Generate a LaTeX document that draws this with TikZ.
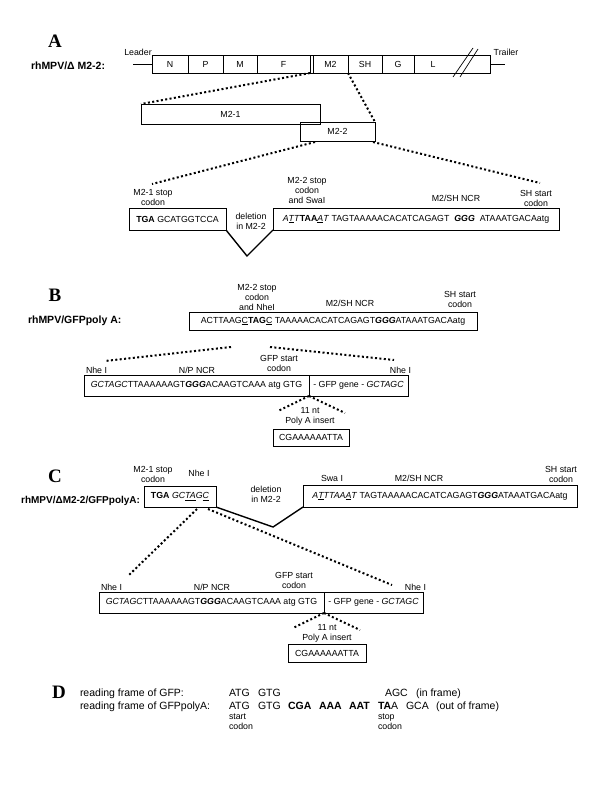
\documentclass[tikz,border=0pt]{standalone}
\usepackage{fontspec}
\setmainfont{Liberation Sans}
\newfontfamily\panelfont{Liberation Serif}
\begin{document}
\begin{tikzpicture}[x=1pt,y=-1pt,
  every node/.style={inner sep=0pt,outer sep=0pt},
  sm/.style={font=\fontsize{8.8}{10}\selectfont,align=center},
  seg/.style={draw,line width=0.7pt,minimum height=18pt,font=\fontsize{8.8}{10}\selectfont},
  box/.style={draw,line width=0.8pt,font=\fontsize{8.8}{10}\selectfont},
  dotline/.style={line width=2pt,dash pattern=on 2pt off 2.4pt},
  thk/.style={line width=1.4pt},
  plabel/.style={font=\panelfont\bfseries\fontsize{19}{19}\selectfont},
  ttl/.style={font=\bfseries\fontsize{10.5}{12}\selectfont},
  dtext/.style={font=\fontsize{10.5}{12}\selectfont,anchor=base west},
]
\useasboundingbox (0,0) rectangle (600,800);
\fill[white] (0,0) rectangle (600,800);

% ---------------- Panel A ----------------
\node[plabel] (pA) at (55,41) {A};
\node[ttl,anchor=west] (tA) at (31,66) {rhMPV/Δ M2-2:};
\node[seg,minimum width=36pt] (gN) at (170,64) {N};
\node[seg,minimum width=35pt] (gP) at (205.5,64) {P};
\node[seg,minimum width=34pt] (gM) at (240,64) {M};
\node[seg,minimum width=53pt] (gF) at (283.5,64) {F};
\node[seg,minimum width=35pt] (gMM) at (330.5,64) {M2};
\node[seg,minimum width=34pt] (gSH) at (365,64) {SH};
\node[seg,minimum width=32pt] (gG) at (398,64) {G};
\node[seg,minimum width=76pt] (gL) at (452,64) {};
\node[sm] (gLt) at (433,64) {L};
\draw[line width=0.7pt] (gF.north east) -- (gMM.north west) (gF.south east) -- (gMM.south west);
\draw[line width=0.7pt] (453,77) -- (473,48) (460,77) -- (478,49);
\coordinate (leadend) at (133,64);
\coordinate (trailend) at (505,64);
\draw[line width=0.7pt] (leadend) -- (gN.west);
\draw[line width=0.7pt] (gL.east) -- (trailend);
\node[sm] (leader) at (138,52) {Leader};
\node[sm] (trailer) at (506,52) {Trailer};

\node[box,minimum width=179pt,minimum height=20pt] (m21) at (230.5,114) {M2-1};
\node[box,minimum width=75pt,minimum height=19pt] (m22) at (337.5,131.5) {M2-2};
\draw[dotline] (gF.south east) -- (m21.north west);
\draw[dotline] (gSH.south west) -- (m22.north east);

\node[box,minimum width=97pt,minimum height=22pt] (tgaA) at (177.5,219) {\textbf{TGA} GCATGGTCCA};
\node[box,minimum width=286pt,minimum height=22pt] (ncrA) at (416,219) {\textit{A\underline{T}T}\textbf{TAA}\textit{\underline{A}T} TAGTAAAAACACATCAGAGT \ \textbf{\textit{GGG}} \ ATAAATGACAatg};
\coordinate (a1) at (315,142);
\coordinate (a2) at (152,184);
\coordinate (a3) at (373,142);
\coordinate (a4) at (540,183);
\draw[dotline] (a1) -- (a2);
\draw[dotline] (a3) -- (a4);
\coordinate (vA) at (247,256);
\draw[thk] (tgaA.south east) -- (vA) -- (ncrA.south west);
\node[sm] (lA1) at (153,197) {M2-1 stop\\codon};
\node[sm] (lA2) at (307,190) {M2-2 stop\\codon\\and SwaI};
\node[sm] (lA3) at (456,198) {M2/SH NCR};
\node[sm] (lA4) at (536,198) {SH start\\codon};
\node[sm] (lA5) at (251,221) {deletion\\in M2-2};

% ---------------- Panel B ----------------
\node[plabel] (pB) at (55,295) {B};
\node[ttl,anchor=west] (tB) at (28,321) {rhMPV/GFPpoly A:};
\node[box,minimum width=288pt,minimum height=18pt] (topB) at (333,321) {ACTTAAG\underline{C}\textbf{TAG}\underline{C} TAAAAACACATCAGAGT\textbf{\textit{GGG}}ATAAATGACAatg};
\node[sm] (lB1) at (257,297) {M2-2 stop\\codon\\ and NheI};
\node[sm] (lB2) at (350,303) {M2/SH NCR};
\node[sm] (lB3) at (460,299) {SH start\\codon};
\coordinate (b1) at (231,347);
\coordinate (b2) at (105,361);
\coordinate (b3) at (270,347);
\coordinate (b4) at (394,360);
\draw[dotline] (b1) -- (b2);
\draw[dotline] (b3) -- (b4);
\node[box,minimum width=225pt,minimum height=21pt] (lowBL) at (196.5,385.5) {\textit{GCTAGC}TTAAAAAAGT\textbf{\textit{GGG}}ACAAGTCAAA atg GTG};
\node[box,minimum width=99pt,minimum height=21pt] (lowBR) at (358.5,385.5) {- GFP gene - \textit{GCTAGC}};
\node[sm,anchor=west] (lB4) at (86,370) {Nhe I};
\node[sm] (lB5) at (197,370) {N/P NCR};
\node[sm] (lB6) at (279,363) {GFP start\\codon};
\node[sm,anchor=east] (lB7) at (411,370) {Nhe I};
\coordinate (b5) at (278,411);
\coordinate (b6) at (345,413);
\draw[dotline] (lowBL.south east) -- (b5);
\draw[dotline] (lowBL.south east) -- (b6);
\node[sm] (lB8) at (310,416) {11 nt\\Poly A insert};
\node[box,minimum width=76pt,minimum height=17pt] (polyB) at (311,437.5) {CGAAAAAATTA};

% ---------------- Panel C ----------------
\node[plabel] (pC) at (55,476) {C};
\node[ttl,anchor=east,font=\bfseries\fontsize{10}{12}\selectfont] (tC) at (140,501) {rhMPV/ΔM2-2/GFPpolyA:};
\node[box,minimum width=72pt,minimum height=21pt] (tlC) at (180,496.5) {\textbf{TGA} \textit{GC\underline{TA}G\underline{C}}};
\node[box,minimum width=274pt,minimum height=22pt] (rC) at (440,496) {\textit{A\underline{T}TTAA\underline{A}T} TAGTAAAAACACATCAGAGT\textbf{\textit{GGG}}ATAAATGACAatg};
\node[sm] (lC1) at (153,474) {M2-1 stop\\codon};
\node[sm] (lC2) at (199,473) {Nhe I};
\node[sm] (lC3) at (266,494) {deletion\\in M2-2};
\node[sm] (lC4) at (332,478) {Swa I};
\node[sm] (lC5) at (419,478) {M2/SH NCR};
\node[sm] (lC6) at (561,474) {SH start\\codon};
\coordinate (vC) at (273,527);
\draw[thk] (tlC.south east) -- (vC) -- (rC.south west);
\coordinate (c1) at (197,509);
\coordinate (c2) at (129,575);
\coordinate (c3) at (208,509);
\coordinate (c4) at (392,585);
\draw[dotline] (c1) -- (c2);
\draw[dotline] (c3) -- (c4);
\node[box,minimum width=225pt,minimum height=21pt] (lowCL) at (211.5,602.5) {\textit{GCTAGC}TTAAAAAAGT\textbf{\textit{GGG}}ACAAGTCAAA atg GTG};
\node[box,minimum width=99pt,minimum height=21pt] (lowCR) at (373.5,602.5) {- GFP gene - \textit{GCTAGC}};
\node[sm,anchor=west] (lC7) at (101,587) {Nhe I};
\node[sm] (lC8) at (212,587) {N/P NCR};
\node[sm] (lC9) at (294,580) {GFP start\\codon};
\node[sm,anchor=east] (lC10) at (426,587) {Nhe I};
\coordinate (c5) at (293,628);
\coordinate (c6) at (360,630);
\draw[dotline] (lowCL.south east) -- (c5);
\draw[dotline] (lowCL.south east) -- (c6);
\node[sm] (lC11) at (327,633) {11 nt\\Poly A insert};
\node[box,minimum width=78pt,minimum height=18pt] (polyC) at (327,653) {CGAAAAAATTA};

% ---------------- Panel D ----------------
\node[plabel] (pD) at (59,692) {D};
\node[dtext] (d1l) at (80,696) {reading frame of GFP:};
\node[dtext] (d1a) at (229,696) {ATG};
\node[dtext] (d1b) at (258,696) {GTG};
\node[dtext] (d1c) at (385,696) {AGC};
\node[dtext] (d1d) at (416,696) {(in frame)};
\node[dtext] (d2l) at (80,709.5) {reading frame of GFPpolyA:};
\node[dtext] (d2a) at (229,709.5) {ATG};
\node[dtext] (d2b) at (258,709.5) {GTG};
\node[dtext] (d2c) at (288,709.5) {\textbf{CGA}};
\node[dtext] (d2d) at (319,709.5) {\textbf{AAA}};
\node[dtext] (d2e) at (349,709.5) {\textbf{AAT}};
\node[dtext] (d2f) at (378,709.5) {\textbf{TA}A};
\node[dtext] (d2g) at (406,709.5) {GCA};
\node[dtext] (d2h) at (436,709.5) {(out of frame)};
\node[sm,align=left,anchor=north west] (dst) at (229,714) {start\\codon};
\node[sm,align=left,anchor=north west] (dsp) at (378,714) {stop\\codon};
\end{tikzpicture}
\end{document}
